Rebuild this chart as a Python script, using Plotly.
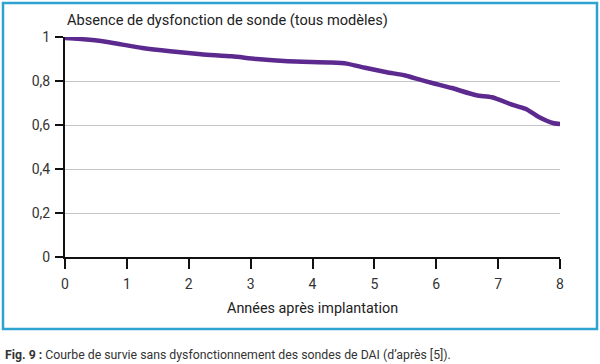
import plotly.graph_objects as go

# Data
years = [0, 0.4, 0.8, 1.25, 1.7, 2.2, 2.7, 3.1, 3.6, 4.3, 4.55, 4.85, 5.2, 5.5,
         5.75, 5.95, 6.25, 6.65, 6.9, 7.25, 7.45, 7.65, 7.9, 8]
survival = [0.995, 0.987, 0.972, 0.95, 0.935, 0.922, 0.912, 0.9, 0.89, 0.884,
            0.879, 0.86, 0.84, 0.825, 0.805, 0.79, 0.768, 0.735, 0.726, 0.69,
            0.673, 0.638, 0.608, 0.605]

x_ticks = [0, 1, 2, 3, 4, 5, 6, 7, 8]
x_ticktext = ["0", "1", "2", "3", "4", "5", "6", "7", "8"]
y_ticks = [0, 0.2, 0.4, 0.6, 0.8, 1]
y_ticktext = ["0", "0,2", "0,4", "0,6", "0,8", "1"]

title_text = "Absence de dysfonction de sonde (tous modèles)"
x_title = "Années après implantation"
caption = "<b>Fig. 9 :</b> Courbe de survie sans dysfonctionnement des sondes de DAI (d’après [5])."

W, H = 600, 364
L, R, T, B = 65, 40, 37, 107
FONT = "Roboto"

fig = go.Figure()
fig.add_trace(go.Scatter(
    x=years, y=survival, mode="lines",
    line=dict(color="#5c2a8e", width=4.5, shape="spline", smoothing=0.6),
    cliponaxis=False, hoverinfo="skip", showlegend=False,
))

fig.update_layout(
    width=W, height=H,
    margin=dict(l=L, r=R, t=T, b=B, pad=0),
    paper_bgcolor="white", plot_bgcolor="white",
    font=dict(family=FONT, size=14, color="#333333"),
    showlegend=False,
    xaxis=dict(
        range=[0, 8], tickvals=x_ticks, ticktext=x_ticktext,
        showline=True, linecolor="#111111", linewidth=2,
        ticks="outside", ticklen=10, tickwidth=2, tickcolor="#111111",
        showgrid=False, zeroline=False, fixedrange=True,
        ticklabelstandoff=3,
        tickfont=dict(size=14, color="#333333"),
    ),
    yaxis=dict(
        range=[0, 1], tickvals=y_ticks, ticktext=y_ticktext,
        showline=True, linecolor="#111111", linewidth=2,
        ticks="outside", ticklen=8, tickwidth=2, tickcolor="#111111",
        showgrid=True, gridcolor="#c4c4c4", gridwidth=1,
        zeroline=False, fixedrange=True,
        ticklabelstandoff=2,
        tickfont=dict(size=14, color="#333333"),
    ),
    shapes=[dict(
        type="rect", xref="paper", yref="paper",
        x0=(3 - L) / (W - L - R), x1=(597 - L) / (W - L - R),
        y0=(H - B - 329) / (H - T - B), y1=(H - B - 3) / (H - T - B),
        line=dict(color="#2ea3d0", width=2.5), fillcolor="rgba(0,0,0,0)",
        layer="below",
    )],
    annotations=[
        dict(text=title_text, xref="paper", yref="paper",
             x=0, y=(H - B - 20) / (H - T - B), xanchor="left", yanchor="middle",
             showarrow=False, font=dict(size=14.6, color="#222222", family=FONT)),
        dict(text=x_title, xref="paper", yref="paper",
             x=0.5, y=(H - B - 308) / (H - T - B), xanchor="center", yanchor="middle",
             showarrow=False, font=dict(size=14.4, color="#222222", family=FONT)),
        dict(text=caption, xref="paper", yref="paper",
             x=(3 - L) / (W - L - R), y=(H - B - 355) / (H - T - B),
             xanchor="left", yanchor="middle",
             showarrow=False, font=dict(size=12.3, color="#333333", family=FONT)),
    ],
)

fig.write_html("out.html", config={"displayModeBar": False},
               post_script="document.body.style.margin='0';document.body.style.overflow='hidden';")
